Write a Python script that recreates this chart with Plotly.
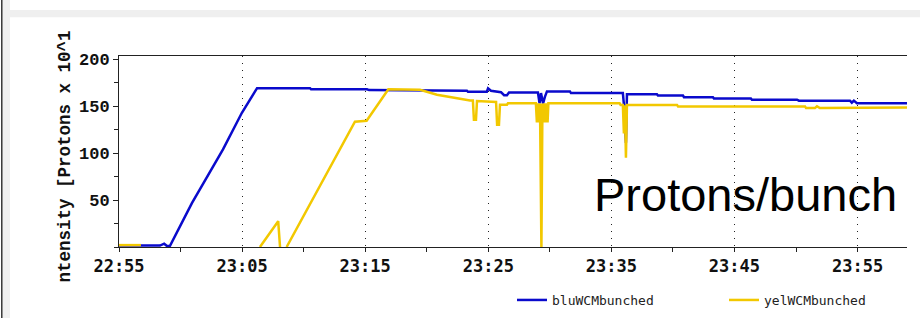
import plotly.graph_objects as go

DAY = "2000-01-01 "

blu_times = ["22:55:00", "22:58:20", "22:58:40", "22:58:54", "22:59:08", "23:00:56", "23:03:27",
             "23:04:59", "23:06:13", "23:10:31", "23:10:36", "23:15:09", "23:15:19", "23:20:50",
             "23:20:55", "23:23:16", "23:23:21", "23:24:53", "23:24:59", "23:25:13", "23:26:02",
             "23:26:17", "23:26:31", "23:26:41", "23:29:02", "23:29:10", "23:29:17", "23:29:27",
             "23:29:36", "23:29:46", "23:31:38", "23:31:43", "23:35:56", "23:36:01", "23:36:11",
             "23:36:16", "23:38:42", "23:38:47", "23:40:49", "23:40:54", "23:43:15", "23:43:20",
             "23:46:20", "23:46:25", "23:50:05", "23:50:14", "23:54:23", "23:54:32", "23:54:42",
             "23:54:57", "23:59:01"]
blu_values = [1.5, 1.5, 3.5, 1, 1, 47, 104,
              143, 169.2, 169.2, 168.1, 168.1, 167.2, 167.2,
              166.5, 166.5, 165.4, 165.4, 169, 166.5, 165,
              161.7, 161.7, 164.6, 164.6, 153, 164, 153,
              160, 165.8, 165.8, 164, 164, 152, 111,
              162.8, 162.8, 161.4, 161.4, 159.6, 159.6, 158.2,
              158.2, 156.9, 156.9, 155.9, 155.9, 153.8, 156,
              153.2, 153.2]

yel_times = ["22:55:00", "22:56:47", "22:56:50", "23:06:27", "23:07:56", "23:08:05", "23:08:20",
             "23:08:37", "23:14:10", "23:15:07", "23:16:53", "23:19:27", "23:20:50", "23:23:31",
             "23:23:45", "23:23:50", "23:24:00", "23:24:05", "23:24:59", "23:25:38", "23:25:43",
             "23:25:52", "23:25:57", "23:26:31", "23:26:36", "23:28:52", "23:28:57", "23:29:02",
             "23:29:07", "23:29:12", "23:29:19", "23:29:24", "23:29:29", "23:29:34", "23:29:39",
             "23:29:44", "23:29:49", "23:29:53", "23:35:40", "23:35:45", "23:35:56", "23:36:01",
             "23:36:06", "23:36:11", "23:36:16", "23:40:20", "23:40:25", "23:50:44", "23:50:49",
             "23:51:32", "23:51:42", "23:51:56", "23:59:01"]
yel_values = [2, 2, None, 0, 27.5, 0, None,
              0, 133.5, 134.5, 168, 167.5, 162.2, 156,
              156, 135.6, 135.6, 155.5, 155, 154.5, 130.3,
              130.3, 151.6, 151.6, 153.2, 153.2, 132.8, 153,
              132.8, 153, 0, 153, 132.8, 153, 132.8,
              153, 132.8, 153.2, 153.2, 151.4, 151.4, 121,
              151, 95, 151.4, 151.4, 149.8, 149.8, 148,
              148, 150, 148, 148.7]

tick_labels = ["22:55", "23:05", "23:15", "23:25", "23:35", "23:45", "23:55"]
y_ticks = [50, 100, 150, 200]

W, H = 920, 318
L, R, T, B = 119, 13, 56, 71
PW, PH = W - L - R, H - T - B


def xp(px):
    return (px - L) / PW


def yp(py):
    return (H - B - py) / PH


fig = go.Figure()
fig.add_trace(go.Scatter(x=[DAY + t for t in blu_times], y=blu_values, mode="lines",
                         name="bluWCMbunched", line=dict(color="#0a0acc", width=2.5),
                         connectgaps=False))
fig.add_trace(go.Scatter(x=[DAY + t for t in yel_times], y=yel_values, mode="lines",
                         name="yelWCMbunched", line=dict(color="#f2c800", width=2.5),
                         connectgaps=False))

fig.update_layout(
    width=W, height=H, autosize=False,
    margin=dict(l=L, r=R, t=T, b=B, pad=0, autoexpand=False),
    paper_bgcolor="white", plot_bgcolor="white",
    showlegend=True,
    legend=dict(orientation="h", x=xp(512), xanchor="left", y=yp(300), yanchor="middle",
                font=dict(family="DejaVu Sans Mono", size=13, color="#222"),
                entrywidth=167, bgcolor="rgba(0,0,0,0)"),
    xaxis=dict(
        type="date", automargin=False,
        range=[DAY + "22:55:00", DAY + "23:59:01"],
        tickmode="array",
        tickvals=[DAY + t for t in tick_labels],
        ticktext=tick_labels,
        ticks="outside", ticklen=4, tickcolor="#222", tickwidth=1,
        minor=dict(dtick=300000, tick0=DAY + "22:55:00", ticks="outside", ticklen=4,
                   tickcolor="#222", showgrid=False),
        showgrid=True, gridcolor="#222", gridwidth=1, griddash="1px,6px",
        showline=True, linecolor="#222", linewidth=1, mirror=True,
        zeroline=False,
        tickfont=dict(family="DejaVu Sans Mono", size=17, color="#111", weight="bold"),
    ),
    yaxis=dict(
        range=[0, 203.5], automargin=False,
        tickmode="array", tickvals=y_ticks,
        ticks="outside", ticklen=5, tickcolor="#222",
        minor=dict(tickmode="linear", tick0=0, dtick=25, ticks="outside", ticklen=4,
                   tickcolor="#222", showgrid=False),
        showgrid=False, zeroline=False,
        showline=True, linecolor="#222", linewidth=1, mirror=False,
        tickfont=dict(family="Liberation Mono", size=17, color="#111", weight="bold"),
    ),
    shapes=[
        dict(type="rect", xref="paper", yref="paper", x0=xp(3), x1=xp(10), y0=yp(H), y1=yp(0),
             fillcolor="#efefef", line=dict(width=0), layer="below"),
        dict(type="rect", xref="paper", yref="paper", x0=xp(10), x1=xp(W), y0=yp(17.3), y1=yp(10),
             fillcolor="#efefef", line=dict(width=0), layer="below"),
        dict(type="line", xref="paper", yref="paper", x0=xp(1.8), x1=xp(1.8), y0=yp(H), y1=yp(0),
             line=dict(color="#333", width=1.5)),
    ],
    annotations=[
        dict(text="ntensity [Protons x 10^1", xref="paper", yref="paper", x=xp(64), y=yp(156.5),
             textangle=-90, showarrow=False, xanchor="center", yanchor="middle",
             font=dict(family="Liberation Mono", size=17.5, color="#111", weight="bold")),
        dict(text="Protons/bunch", xref="paper", yref="paper", x=xp(745), y=yp(194),
             showarrow=False, xanchor="center", yanchor="middle",
             font=dict(family="Liberation Sans", size=47, color="black")),
    ],
)

fig.write_html("out.html", config={"displayModeBar": False},
               post_script="document.body.style.margin='0';document.body.style.overflow='hidden';")
